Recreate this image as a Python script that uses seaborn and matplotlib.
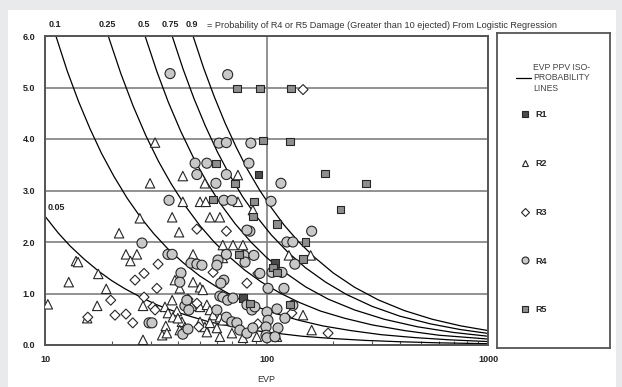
import numpy as np
import pandas as pd
import matplotlib
matplotlib.use("Agg")
import matplotlib.pyplot as plt
from matplotlib.lines import Line2D
from matplotlib.patches import Rectangle
from matplotlib.ticker import LogLocator, NullFormatter
import seaborn as sns

# ── iso-probability lines (EVP, PPV) ────────────────────────────────
c005_evp = [10, 11.5, 13, 15, 17.5, 20, 23, 27, 32, 38, 45, 55, 68, 85, 110, 145, 200, 280, 400, 600, 1000]
c005_ppv = [2.5, 2.17, 1.92, 1.67, 1.43, 1.25, 1.09, 0.93, 0.78, 0.66, 0.56, 0.45, 0.37, 0.29, 0.23, 0.17, 0.125, 0.089, 0.063, 0.042, 0.025]
c01_evp = [11.2, 12.6, 14.2, 16, 18, 20.5, 23.5, 27, 31, 36, 42, 50, 60, 72, 88, 110, 140, 180, 240, 330, 470, 680, 1000]
c01_ppv = [6.0, 5.32, 4.72, 4.19, 3.72, 3.27, 2.85, 2.48, 2.16, 1.86, 1.60, 1.34, 1.12, 0.93, 0.76, 0.61, 0.48, 0.37, 0.28, 0.20, 0.143, 0.099, 0.067]
c025_evp = [19.3, 22, 25, 28.5, 32.5, 37, 43, 50, 58, 68, 80, 95, 115, 140, 175, 225, 300, 420, 600, 1000]
c025_ppv = [6.0, 5.27, 4.64, 4.07, 3.57, 3.14, 2.70, 2.32, 2.0, 1.71, 1.45, 1.22, 1.01, 0.83, 0.66, 0.52, 0.39, 0.28, 0.19, 0.116]
c05_evp = [28.3, 32, 36, 41, 47, 54, 62, 72, 85, 100, 120, 150, 190, 250, 340, 480, 700, 1000]
c05_ppv = [6.0, 5.31, 4.72, 4.15, 3.62, 3.15, 2.74, 2.36, 2.0, 1.70, 1.42, 1.13, 0.89, 0.68, 0.50, 0.354, 0.243, 0.17]
c075_evp = [37.5, 42, 47, 53, 60, 68, 78, 90, 105, 125, 150, 185, 230, 300, 400, 550, 750, 1000]
c075_ppv = [6.0, 5.36, 4.79, 4.25, 3.75, 3.31, 2.88, 2.5, 2.14, 1.8, 1.5, 1.22, 0.98, 0.75, 0.56, 0.41, 0.30, 0.225]
c09_evp = [46.6, 52, 58, 65, 73, 82, 93, 105, 120, 140, 165, 200, 250, 320, 420, 560, 750, 1000]
c09_ppv = [6.0, 5.38, 4.83, 4.31, 3.84, 3.41, 3.01, 2.67, 2.33, 2.0, 1.70, 1.40, 1.12, 0.875, 0.667, 0.5, 0.373, 0.28]
curve_labels = ["0.05", "0.1", "0.25", "0.5", "0.75", "0.9"]

# ── damage observations (EVP, PPV) ──────────────────────────────────
r1_evp = [92.3, 109.2, 78.3]
r1_ppv = [3.31, 1.59, 0.91]

r2_evp = [31.4, 74.3, 41.9, 29.8, 52.7, 41.9, 50.1, 53.2, 74.3, 86.8, 26.8, 37.5, 55.5, 61.6,
          21.6, 40.3, 63.5, 70.6, 78.3, 23.2, 26.0, 24.3, 46.6, 13.8, 14.1, 63.5, 17.4, 38.6,
          12.8, 46.6, 18.9, 40.6, 50.1, 51.6, 10.3, 17.2, 27.7, 37.5, 34.8, 35.9, 39.4, 15.5,
          35.1, 37.8, 41.5, 33.8, 27.7, 46.1, 50.1, 53.8, 55.5, 57.4, 61.6, 63.5, 50.1, 52.7,
          53.8, 55.5, 69.8, 40.6, 42.8, 35.5, 59.7, 78.3, 90.4, 61.6, 111.5, 126.2, 158.3,
          146.2, 159.9, 39.8]
r2_ppv = [3.93, 3.30, 3.28, 3.14, 3.14, 2.78, 2.78, 2.78, 2.78, 2.62, 2.46, 2.48, 2.48, 2.48,
          2.17, 2.19, 1.94, 1.94, 1.94, 1.76, 1.76, 1.63, 1.76, 1.63, 1.61, 1.69, 1.38, 1.26,
          1.22, 1.22, 1.09, 1.10, 1.12, 1.07, 0.79, 0.76, 0.76, 0.87, 0.74, 0.62, 0.66, 0.52,
          0.37, 0.54, 0.45, 0.19, 0.10, 0.76, 0.74, 0.78, 0.68, 0.58, 0.54, 0.48, 0.45, 0.35,
          0.25, 0.43, 0.23, 0.29, 0.35, 0.23, 0.33, 0.14, 0.16, 0.16, 0.16, 1.74, 1.74,
          0.58, 0.29, 0.52]

r3_evp = [146.2, 48.5, 65.9, 32.4, 28.0, 25.5, 32.0, 19.8, 28.0, 30.7, 44.2, 15.6, 20.7, 23.2,
          24.9, 49.5, 57.4, 81.6, 48.5, 31.4, 91.4, 130.1, 91.4, 189.7]
r3_ppv = [4.96, 2.25, 2.21, 1.57, 1.39, 1.26, 1.10, 0.87, 0.93, 0.74, 0.89, 0.54, 0.58, 0.60,
          0.43, 0.35, 1.41, 1.20, 0.81, 0.68, 1.39, 0.62, 0.41, 0.23]

r4_evp = [36.7, 66.8, 61.0, 65.9, 85.0, 47.6, 53.8, 83.3, 48.5, 65.9, 59.1, 116.2, 36.3, 64.2,
          69.8, 104.8, 84.1, 159.9, 81.6, 27.4, 123.6, 131.5, 35.9, 37.5, 45.6, 48.5, 51.1, 60.4,
          59.7, 65.9, 79.2, 87.7, 80.0, 41.1, 40.6, 134.3, 105.9, 117.4, 93.3, 64.2, 62.2, 101.6,
          119.9, 61.6, 63.5, 66.8, 70.6, 81.6, 42.8, 43.7, 44.6, 59.7, 65.9, 69.8, 73.5, 85.9,
          88.6, 100.5, 111.5, 131.5, 121.1, 101.6, 112.7, 29.5, 30.4, 41.9, 44.2, 75.8, 81.6,
          86.8, 99.5, 99.5, 100.5, 109.2]
r4_ppv = [5.27, 5.25, 3.92, 3.93, 3.92, 3.53, 3.53, 3.53, 3.31, 3.31, 3.14, 3.14, 2.81, 2.81,
          2.81, 2.79, 2.21, 2.21, 2.23, 1.98, 2.0, 2.0, 1.76, 1.76, 1.59, 1.57, 1.55, 1.65,
          1.55, 1.76, 1.74, 1.74, 1.61, 1.40, 1.22, 1.57, 1.41, 1.41, 1.39, 1.26, 1.20, 1.10,
          1.10, 0.95, 0.93, 0.87, 0.91, 0.78, 0.76, 0.87, 0.68, 0.68, 0.54, 0.45, 0.43, 0.68,
          0.74, 0.64, 0.70, 0.77, 0.52, 0.48, 0.33, 0.43, 0.43, 0.21, 0.31, 0.29, 0.23,
          0.33, 0.35, 0.19, 0.14, 0.16]

r5_evp = [73.5, 93.3, 128.8, 96.4, 127.5, 59.1, 72.0, 183.4, 281.3, 87.7, 57.4, 86.8, 215.3,
          111.5, 150.3, 146.2, 107.0, 111.5, 75.1, 127.5, 84.1]
r5_ppv = [4.98, 4.98, 4.98, 3.97, 3.95, 3.53, 3.14, 3.33, 3.14, 2.79, 2.83, 2.50, 2.63,
          2.35, 2.0, 1.67, 1.51, 1.41, 1.76, 0.79, 0.81]

classes = ["R1", "R2", "R3", "R4", "R5"]
y_ticks = [0, 1, 2, 3, 4, 5, 6]
x_ticks = [10, 100, 1000]

# ── styling ─────────────────────────────────────────────────────────
sns.set_theme(style="white")
plt.rcParams["font.family"] = ["Liberation Sans", "DejaVu Sans"]

fill_map = {"R1": "#4a4a4a", "R2": "white", "R3": "white", "R4": "#c8c8c8", "R5": "#8e8e8e"}
marker_map = {"R1": "s", "R2": "^", "R3": "D", "R4": "o", "R5": "s"}
size_map = {"R1": 28, "R2": 46, "R3": 26, "R4": 52, "R5": 28}
edge = "#262626"
axis_col = "#555555"

df = pd.concat([
    pd.DataFrame({"EVP": r1_evp, "PPV": r1_ppv, "Class": "R1"}),
    pd.DataFrame({"EVP": r2_evp, "PPV": r2_ppv, "Class": "R2"}),
    pd.DataFrame({"EVP": r3_evp, "PPV": r3_ppv, "Class": "R3"}),
    pd.DataFrame({"EVP": r4_evp, "PPV": r4_ppv, "Class": "R4"}),
    pd.DataFrame({"EVP": r5_evp, "PPV": r5_ppv, "Class": "R5"}),
], ignore_index=True)

curves = [(c005_evp, c005_ppv), (c01_evp, c01_ppv), (c025_evp, c025_ppv),
          (c05_evp, c05_ppv), (c075_evp, c075_ppv), (c09_evp, c09_ppv)]

fig = plt.figure(figsize=(6.22, 3.87), dpi=100)
fig.patch.set_facecolor("#e9eaec")
fig.patches.append(Rectangle((8 / 622, 0), 608 / 622, 377 / 387, transform=fig.transFigure,
                             facecolor="white", edgecolor="none", zorder=-10))

ax = fig.add_axes([45 / 622, 42 / 387, 443 / 622, 309 / 387])
ax.set_xscale("log")

for evp, ppv in curves:
    ax.plot(evp, ppv, color="black", lw=0.9, zorder=2)

sns.scatterplot(data=df, x="EVP", y="PPV", hue="Class", style="Class", size="Class",
                palette=fill_map, markers=marker_map, sizes=size_map,
                edgecolor=edge, linewidth=0.8, legend=False, ax=ax, zorder=3)

ax.set_xlim(10, 1000)
ax.set_ylim(0, 6)
ax.set_yticks(y_ticks)
ax.set_yticklabels([f"{v:.1f}" for v in y_ticks])
ax.set_xticks(x_ticks)
ax.set_xticklabels([str(v) for v in x_ticks])
ax.xaxis.set_minor_locator(LogLocator(base=10, subs=range(2, 10)))
ax.xaxis.set_minor_formatter(NullFormatter())
ax.tick_params(axis="both", which="major", direction="out", length=4, width=1,
               color=axis_col, labelsize=6.5, pad=3, labelcolor="#222222")
ax.tick_params(axis="x", which="minor", direction="in", length=3, width=0.8,
               color=axis_col, bottom=True)
for lbl in ax.get_xticklabels() + ax.get_yticklabels():
    lbl.set_fontweight("bold")

ax.grid(True, which="major", axis="both", color="#7f7f7f", lw=1.2)
ax.set_axisbelow(True)
for sp in ax.spines.values():
    sp.set_color(axis_col)
    sp.set_linewidth(1.4)
ax.set_xlabel("EVP", fontsize=6.5, labelpad=8, color="#333333")
ax.set_ylabel("")

# curve labels: 0.05 beside its start, the rest along the top edge
for lab, (evp, ppv) in zip(curve_labels, curves):
    if lab == "0.05":
        ax.annotate(lab, xy=(evp[0], ppv[0]), xytext=(2, 3), textcoords="offset points",
                    ha="left", va="bottom", fontsize=6.5, fontweight="bold", color="#222222",
                    annotation_clip=False)
    else:
        ax.annotate(lab, xy=(evp[0], ppv[0]), xytext=(-1, 8), textcoords="offset points",
                    ha="center", va="center", fontsize=6.5, fontweight="bold", color="#222222",
                    annotation_clip=False)
fig.text(207 / 622, 1 - 25 / 387,
         "= Probability of R4 or R5 Damage (Greater than 10 ejected) From Logistic Regression",
         ha="left", va="center", fontsize=6.6, color="#333333")

# ── legend box ──────────────────────────────────────────────────────
lax = fig.add_axes([497 / 622, 39 / 387, 113 / 622, 315 / 387])
lax.set_xticks([])
lax.set_yticks([])
lax.set_facecolor("white")
for sp in lax.spines.values():
    sp.set_color(axis_col)
    sp.set_linewidth(1.3)

leg1 = lax.legend([Line2D([], [], color="black", lw=0.9)], ["EVP PPV ISO-\nPROBABILITY\nLINES"],
                  loc="upper left", bbox_to_anchor=(0.1, 0.93), frameon=False,
                  fontsize=6.2, handlelength=1.7, handletextpad=0.3, labelcolor="#444444")
lax.add_artist(leg1)

handles = [Line2D([], [], ls="none", marker=marker_map[c], markerfacecolor=fill_map[c],
                  markeredgecolor=edge, markeredgewidth=0.8,
                  markersize=4 if marker_map[c] in ("s", "D") else 5) for c in classes]
lax.legend(handles, classes, loc="upper left", bbox_to_anchor=(0.14, 0.78), frameon=False,
           prop={"size": 6.5, "weight": "bold"}, labelspacing=4.4, handletextpad=0.6,
           handlelength=1.0)

fig.savefig("out.png", dpi=100, facecolor=fig.get_facecolor())
